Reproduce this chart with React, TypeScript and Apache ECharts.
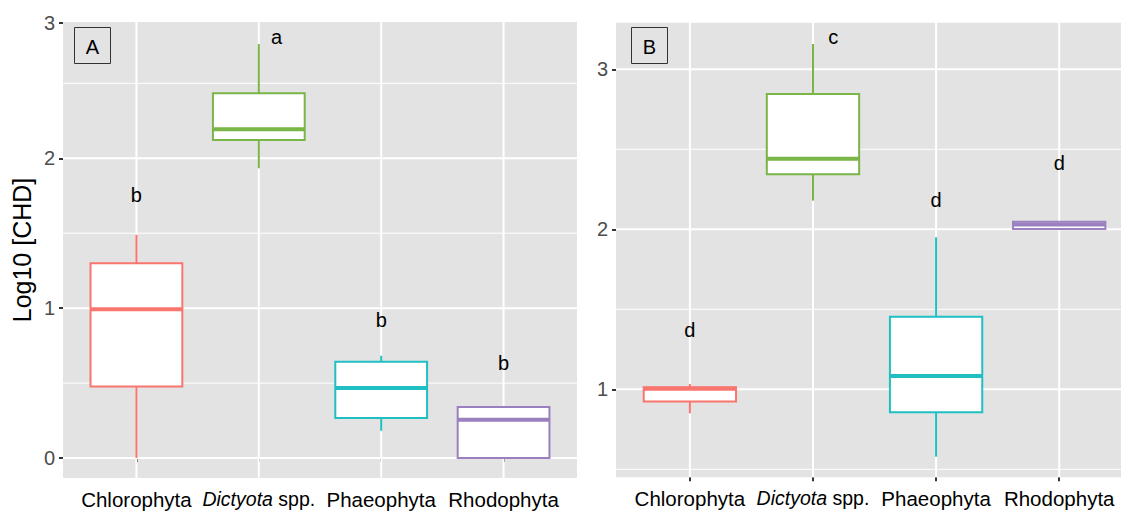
import React, { useEffect, useRef } from 'react';
import * as echarts from 'echarts';

const categories = ['Chlorophyta', 'Dictyota spp.', 'Phaeophyta', 'Rhodophyta'];
const categoryPos = [1, 2, 3, 4];
const colors = ['#F8766D', '#7AB547', '#1FBFC4', '#9B80C0'];

// [lower whisker, q1, median, q3, upper whisker]
const boxA = [
  [0.0, 0.477, 0.993, 1.3, 1.489],
  [1.933, 2.122, 2.193, 2.433, 2.762],
  [0.182, 0.267, 0.467, 0.642, 0.682],
  [0.0, 0.0, 0.255, 0.34, 0.34],
];
const boxB = [
  [0.85, 0.923, 1.003, 1.012, 1.033],
  [2.179, 2.344, 2.441, 2.846, 3.158],
  [0.579, 0.856, 1.083, 1.454, 1.95],
  [2.002, 2.002, 2.03, 2.047, 2.047],
];

// significance letters [x, y, letter]
const lettersA: [number, number, string][] = [
  [1, 1.755, 'b'],
  [2.145, 2.81, 'a'],
  [3, 0.922, 'b'],
  [4, 0.635, 'b'],
];
const lettersB: [number, number, string][] = [
  [1, 1.371, 'd'],
  [2.165, 3.2, 'c'],
  [3, 2.183, 'd'],
  [4, 2.414, 'd'],
];

const yMajorA = [0, 1, 2];
const yMinorA = [0.5, 1.5, 2.5];
const yLabelsA = [0, 1, 2, 2.905];
const yMajorB = [1, 2, 3];
const yMinorB = [0.5, 1.5, 2.5];
const yLabelsB = [1, 2, 3];

const FONT = '"Liberation Sans", Arial, Helvetica, sans-serif';
const PANEL_BG = '#E3E3E3';

function hLineSeries(idx: number, values: number[], width: number) {
  return {
    type: 'custom',
    xAxisIndex: idx,
    yAxisIndex: idx,
    z: 1,
    silent: true,
    data: values.map((v) => [1, v]),
    renderItem: (params: any, api: any) => {
      const cs = params.coordSys;
      const y = api.coord([1, api.value(1)])[1];
      return {
        type: 'line',
        shape: { x1: cs.x, y1: y, x2: cs.x + cs.width, y2: y },
        style: { stroke: '#FFFFFF', lineWidth: width },
      };
    },
  };
}

function vLineSeries(idx: number, values: number[], width: number) {
  return {
    type: 'custom',
    xAxisIndex: idx,
    yAxisIndex: idx,
    z: 1,
    silent: true,
    data: values.map((v) => [v, 1]),
    renderItem: (params: any, api: any) => {
      const cs = params.coordSys;
      const x = api.coord([api.value(0), 1])[0];
      return {
        type: 'line',
        shape: { x1: x, y1: cs.y, x2: x, y2: cs.y + cs.height },
        style: { stroke: '#FFFFFF', lineWidth: width },
      };
    },
  };
}

function boxSeries(idx: number, boxes: number[][]) {
  return {
    type: 'custom',
    xAxisIndex: idx,
    yAxisIndex: idx,
    z: 3,
    silent: true,
    data: boxes.map((b, i) => [categoryPos[i], ...b]),
    renderItem: (params: any, api: any) => {
      const i = params.dataIndex;
      const color = colors[i];
      const xv = api.value(0);
      const cx = api.coord([xv, 0])[0];
      const yLo = api.coord([xv, api.value(1)])[1];
      const yQ1 = api.coord([xv, api.value(2)])[1];
      const yMed = api.coord([xv, api.value(3)])[1];
      const yQ3 = api.coord([xv, api.value(4)])[1];
      const yHi = api.coord([xv, api.value(5)])[1];
      const w = api.size([0.75, 0])[0];
      const children: any[] = [];
      if (yHi < yQ3 - 0.5) {
        children.push({
          type: 'line',
          shape: { x1: cx, y1: yQ3, x2: cx, y2: yHi },
          style: { stroke: color, lineWidth: 2 },
        });
      }
      if (yLo > yQ1 + 0.5) {
        children.push({
          type: 'line',
          shape: { x1: cx, y1: yQ1, x2: cx, y2: yLo },
          style: { stroke: color, lineWidth: 2 },
        });
      }
      children.push({
        type: 'rect',
        shape: { x: cx - w / 2, y: yQ3, width: w, height: Math.max(yQ1 - yQ3, 0.5) },
        style: { fill: '#FFFFFF', stroke: color, lineWidth: 2 },
      });
      children.push({
        type: 'line',
        shape: { x1: cx - w / 2, y1: yMed, x2: cx + w / 2, y2: yMed },
        style: { stroke: color, lineWidth: 4 },
      });
      return { type: 'group', children };
    },
  };
}

function letterSeries(idx: number, letters: [number, number, string][]) {
  return {
    type: 'custom',
    xAxisIndex: idx,
    yAxisIndex: idx,
    z: 4,
    silent: true,
    data: letters.map((l) => [l[0], l[1]]),
    renderItem: (params: any, api: any) => {
      const p = api.coord([api.value(0), api.value(1)]);
      return {
        type: 'text',
        x: p[0],
        y: p[1],
        style: {
          text: letters[params.dataIndex][2],
          fontSize: 20,
          fontFamily: FONT,
          fill: '#000000',
          align: 'center',
          verticalAlign: 'middle',
        },
      };
    },
  };
}

function xAxis(idx: number, max: number) {
  return {
    type: 'value',
    gridIndex: idx,
    min: 0.4,
    max,
    axisLine: { show: false },
    splitLine: { show: false },
    axisTick: {
      show: true,
      customValues: categoryPos,
      length: 4,
      lineStyle: { color: '#333333', width: 2 },
    },
    axisLabel: {
      customValues: categoryPos,
      fontSize: 20.5,
      fontFamily: FONT,
      color: '#000000',
      margin: 11,
      formatter: (v: number) => {
        const name = categories[Math.round(v) - 1] || '';
        if (name.startsWith('Dictyota')) return '{it|Dictyota}{n| spp.}';
        return name;
      },
      rich: {
        it: { fontStyle: 'italic', fontSize: 19.5, fontFamily: FONT, color: '#000000' },
        n: { fontSize: 19.5, fontFamily: FONT, color: '#000000' },
      },
    },
  };
}

function yAxis(idx: number, min: number, max: number, labels: number[], name: string) {
  return {
    type: 'value',
    gridIndex: idx,
    min,
    max,
    name,
    nameLocation: 'middle',
    nameGap: 29,
    nameTextStyle: { fontSize: 25, fontFamily: FONT, color: '#000000' },
    axisLine: { show: false },
    splitLine: { show: false },
    axisTick: {
      show: true,
      customValues: labels,
      length: 4,
      lineStyle: { color: '#333333', width: 2 },
    },
    axisLabel: {
      customValues: labels,
      fontSize: 20,
      fontFamily: FONT,
      color: '#4D4D4D',
      margin: 8,
      formatter: (v: number) => (v > 2.5 && v < 2.95 ? '3' : String(Math.round(v))),
    },
  };
}

function panelLabel(left: number, text: string) {
  return {
    type: 'group',
    left,
    top: 27,
    children: [
      {
        type: 'rect',
        shape: { x: 0, y: 0, width: 36, height: 36 },
        style: { fill: PANEL_BG, stroke: '#333333', lineWidth: 1 },
      },
      {
        type: 'text',
        x: 18,
        y: 19,
        style: {
          text,
          fontSize: 20,
          fontFamily: FONT,
          fill: '#000000',
          align: 'center',
          verticalAlign: 'middle',
        },
      },
    ],
  };
}

export default function App() {
  const ref = useRef<HTMLDivElement>(null);
  useEffect(() => {
    if (!ref.current) return;
    const chart = echarts.init(ref.current, null, { renderer: 'svg' });
    chart.setOption({
      animation: false,
      backgroundColor: '#FFFFFF',
      textStyle: { fontFamily: FONT },
      grid: [
        { left: 63, top: 22, width: 514, height: 456, show: true, backgroundColor: PANEL_BG, borderWidth: 0 },
        { left: 616, top: 22.7, width: 505, height: 454.6, show: true, backgroundColor: PANEL_BG, borderWidth: 0 },
      ],
      xAxis: [xAxis(0, 4.6), xAxis(1, 4.502)],
      yAxis: [
        yAxis(0, -0.133, 2.909, yLabelsA, 'Log10 [CHD]'),
        yAxis(1, 0.45, 3.291, yLabelsB, ''),
      ],
      series: [
        hLineSeries(0, yMinorA, 1),
        hLineSeries(0, yMajorA, 2),
        vLineSeries(0, categoryPos, 2),
        hLineSeries(1, yMinorB, 1),
        hLineSeries(1, yMajorB, 2),
        vLineSeries(1, categoryPos, 2),
        boxSeries(0, boxA),
        boxSeries(1, boxB),
        letterSeries(0, lettersA),
        letterSeries(1, lettersB),
      ],
      graphic: [panelLabel(74, 'A'), panelLabel(631, 'B')],
    });
    return () => chart.dispose();
  }, []);
  return (
    <div
      ref={ref}
      style={{ position: 'fixed', left: 0, top: 0, width: 1121, height: 511, background: '#FFFFFF' }}
    />
  );
}
